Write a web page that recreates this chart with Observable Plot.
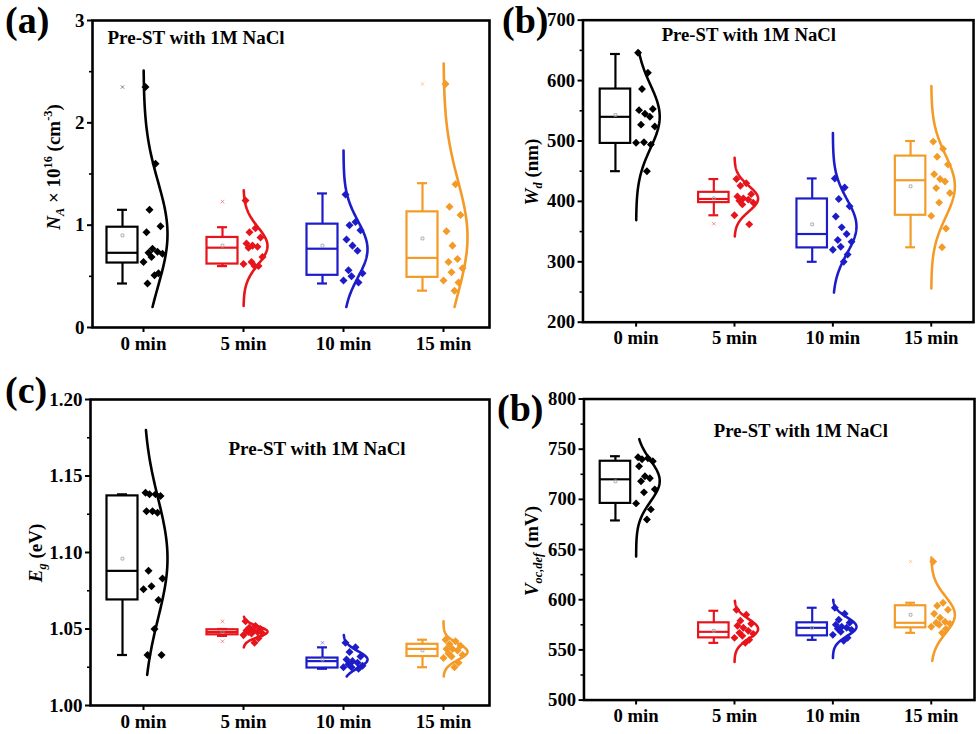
<!DOCTYPE html>
<html><head><meta charset="utf-8">
<script src="https://cdn.jsdelivr.net/npm/d3@7"></script>
<script src="https://cdn.jsdelivr.net/npm/@observablehq/plot@0.6"></script>
<style>
html,body{margin:0;padding:0;background:#fff;overflow:hidden;}
#wrap{position:relative;width:977px;height:734px;overflow:hidden;font-family:"Liberation Serif","Times New Roman",serif;font-weight:bold;color:#000;}
.panel{position:absolute;}
.lab{position:absolute;font-size:38px;line-height:1.1;white-space:nowrap;}
.ytitle{position:absolute;font-size:19px;line-height:1;white-space:nowrap;transform:translate(-50%,-50%) rotate(-90deg);}
.ytitle sub,.ytitle sup{font-size:0.65em;line-height:0;}
</style></head><body><div id="wrap"></div>
<script>
// ---------- shared ----------
const categories = ["0 min", "5 min", "10 min", "15 min"];
const colors = ["#000000", "#e8141b", "#1c1cc9", "#f39a27"];
const subtitle = "Pre-ST with 1M NaCl";

// ---------- (a) N_A x 10^16 (cm^-3) ----------
const naPoints = [
  [2.35, 1.60, 1.15, 0.99, 0.93, 0.77, 0.74, 0.73, 0.72, 0.69, 0.64, 0.53, 0.51, 0.43],
  [1.24, 0.97, 0.93, 0.88, 0.82, 0.80, 0.79, 0.78, 0.69, 0.64, 0.62, 0.60, 0.60],
  [1.30, 1.03, 1.00, 0.95, 0.86, 0.80, 0.75, 0.56, 0.53, 0.50, 0.46, 0.44],
  [2.38, 1.40, 1.18, 1.10, 0.94, 0.80, 0.67, 0.64, 0.58, 0.54, 0.46, 0.44, 0.36]
];
const naBoxLow = [0.43, 0.60, 0.43, 0.36];
const naBoxQ1 = [0.63, 0.62, 0.51, 0.49];
const naBoxMedian = [0.73, 0.78, 0.77, 0.68];
const naBoxQ3 = [0.98, 0.88, 1.01, 1.13];
const naBoxHigh = [1.15, 0.98, 1.31, 1.41];
const naMean = [0.90, 0.80, 0.80, 0.87];
const naCurveLow = [0.20, 0.21, 0.20, 0.20];
const naCurveHigh = [2.51, 1.34, 1.73, 2.58];
const naExtremes = [[0, 2.35], [1, 1.23], [3, 2.38]];
const naTicks = [0, 1, 2, 3];
const naMinor = [0.5, 1.5, 2.5];

// ---------- (b) W_d (nm) ----------
const wdPoints = [
  [646, 613, 586, 553, 551, 545, 540, 527, 524, 498, 497, 494, 450],
  [437, 430, 426, 412, 408, 405, 403, 401, 398, 395, 377, 362],
  [438, 423, 404, 392, 375, 357, 346, 336, 333, 325, 320, 312, 300],
  [499, 487, 474, 461, 445, 437, 433, 422, 414, 398, 376, 355, 324]
];
const wdBoxLow = [450, 377, 300, 324];
const wdBoxQ1 = [496, 398, 323, 377];
const wdBoxMedian = [540, 404, 346, 435];
const wdBoxQ3 = [586, 415, 404, 475];
const wdBoxHigh = [644, 437, 438, 500];
const wdMean = [543, 405, 362, 425];
const wdCurveLow = [369, 342, 249, 256];
const wdCurveHigh = [648, 472, 513, 591];
const wdExtremes = [[1, 363]];
const wdTicks = [200, 300, 400, 500, 600, 700];
const wdMinor = [250, 350, 450, 550, 650];

// ---------- (c) E_g (eV) ----------
const egPoints = [
  [1.139, 1.138, 1.138, 1.137, 1.127, 1.127, 1.126, 1.088, 1.083, 1.078, 1.076, 1.069, 1.050, 1.033, 1.033],
  [1.055, 1.052, 1.051, 1.050, 1.049, 1.049, 1.048, 1.048, 1.047, 1.047, 1.046, 1.044, 1.041],
  [1.041, 1.038, 1.035, 1.032, 1.030, 1.029, 1.028, 1.027, 1.026, 1.025, 1.025, 1.024],
  [1.043, 1.042, 1.040, 1.039, 1.037, 1.037, 1.036, 1.034, 1.033, 1.032, 1.031, 1.028, 1.025]
];
const egBoxLow = [1.033, 1.0455, 1.024, 1.025];
const egBoxQ1 = [1.069, 1.0462, 1.0245, 1.032];
const egBoxMedian = [1.088, 1.048, 1.029, 1.037];
const egBoxQ3 = [1.137, 1.0495, 1.031, 1.040];
const egBoxHigh = [1.138, 1.050, 1.038, 1.043];
const egMean = [1.096, 1.048, 1.030, 1.036];
const egCurveLow = [1.020, 1.038, 1.019, 1.019];
const egCurveHigh = [1.180, 1.058, 1.046, 1.055];
const egExtremes = [[1, 1.055], [1, 1.042], [2, 1.041]];
const egTicks = [1.00, 1.05, 1.10, 1.15, 1.20];
const egMinor = [1.025, 1.075, 1.125, 1.175];

// ---------- (d) V_oc,def (mV) ----------
const vocPoints = [
  [742, 741, 740, 738, 733, 723, 721, 718, 710, 707, 696, 690, 680],
  [590, 585, 579, 576, 574, 572, 569, 567, 566, 564, 562, 560, 557],
  [592, 586, 580, 577, 575, 573, 572, 571, 570, 568, 565, 562, 559],
  [638, 597, 594, 590, 586, 582, 578, 577, 576, 575, 573, 571, 567]
];
const vocBoxLow = [679, 557, 560, 567];
const vocBoxQ1 = [696, 562, 564, 572];
const vocBoxMedian = [720, 568, 572, 577];
const vocBoxQ3 = [738, 577, 577, 594];
const vocBoxHigh = [743, 589, 592, 597];
const vocMean = [718, 569, 572, 585];
const vocCurveLow = [643, 538, 542, 539];
const vocCurveHigh = [760, 599, 600, 642];
const vocExtremes = [[3, 638]];
const vocTicks = [500, 550, 600, 650, 700, 750, 800];
const vocMinor = [525, 575, 625, 675, 725, 775];

// layout constants (not data)
const jitter = [0.02, 0.12, 0.06, 0.17, 0.03, 0.09, 0.14, 0.05, 0.19, 0.08, 0.0, 0.15, 0.11, 0.04, 0.18];
const BOX_L = -0.365, BOX_R = -0.055, BOX_C = -0.21, CAP = 0.05, CURVE_W = 0.24;

function panel(cfg) {
  const pts = cfg.points.flatMap((vals, g) => vals.map((v, i) => ({g, v, x: g + jitter[i % jitter.length]})));
  const boxes = categories.map((c, g) => ({
    g, lo: cfg.low[g], q1: cfg.q1[g], med: cfg.med[g], q3: cfg.q3[g], hi: cfg.high[g], mean: cfg.mean[g]
  }));
  const curves = cfg.points.flatMap((vals, g) => {
    const m = d3.mean(vals), s = d3.deviation(vals);
    const lo = cfg.curveLow[g], hi = cfg.curveHigh[g];
    return d3.range(0, 121).map(k => {
      const y = lo + (hi - lo) * k / 120;
      return {g, y, x: g + CURVE_W * Math.exp(-0.5 * ((y - m) / s) ** 2)};
    });
  });
  const col = d => colors[d.g];
  return Plot.plot({
    width: cfg.width, height: cfg.height,
    marginLeft: cfg.ml, marginRight: cfg.mr, marginTop: cfg.mt, marginBottom: cfg.mb,
    x: {type: "linear", domain: cfg.xDomain},
    y: {type: "linear", domain: cfg.yDomain},
    color: {type: "identity"},
    style: {fontFamily: '"Liberation Serif", "Times New Roman", serif', fontWeight: "bold", background: "transparent", overflow: "visible", color: "#000"},
    marks: [
      Plot.line(curves, {x: "x", y: "y", z: "g", stroke: col, strokeWidth: 2.6}),
      Plot.rect(boxes, {x1: d => d.g + BOX_L, x2: d => d.g + BOX_R, y1: "q1", y2: "q3", stroke: col, fill: "none", strokeWidth: 2.2}),
      Plot.ruleY(boxes, {y: "med", x1: d => d.g + BOX_L, x2: d => d.g + BOX_R, stroke: col, strokeWidth: 2.2}),
      Plot.ruleX(boxes, {x: d => d.g + BOX_C, y1: "q3", y2: "hi", stroke: col, strokeWidth: 2.2}),
      Plot.ruleX(boxes, {x: d => d.g + BOX_C, y1: "lo", y2: "q1", stroke: col, strokeWidth: 2.2}),
      Plot.ruleY(boxes, {y: "hi", x1: d => d.g + BOX_C - CAP, x2: d => d.g + BOX_C + CAP, stroke: col, strokeWidth: 2.2}),
      Plot.ruleY(boxes, {y: "lo", x1: d => d.g + BOX_C - CAP, x2: d => d.g + BOX_C + CAP, stroke: col, strokeWidth: 2.2}),
      Plot.dot(boxes, {x: d => d.g + BOX_C, y: "mean", symbol: "square", r: 1.6, stroke: "#a0a0a0", strokeWidth: 0.8, fill: "none"}),
      Plot.dot(cfg.extremes, {x: d => d[0] + BOX_C, y: d => d[1], symbol: "times", r: 1.8, stroke: d => colors[d[0]], strokeOpacity: 0.45, strokeWidth: 1}),
      Plot.dot(pts, {x: "x", y: "v", symbol: "square", rotate: 45, r: 3.2, fill: col, stroke: "none"}),
      Plot.frame({stroke: "#000", strokeWidth: 2.6}),
      Plot.axisY({ticks: cfg.yTicks, tickFormat: cfg.fmt, tickSize: 5, tickPadding: 3, fontSize: 19, fontWeight: "bold", label: null, strokeWidth: 2}),
      Plot.axisY({ticks: cfg.yMinor, tickFormat: () => "", tickSize: 3, label: null, strokeWidth: 1.6}),
      Plot.axisX({ticks: [0, 1, 2, 3], tickFormat: i => categories[i], tickSize: 5, tickPadding: 4, fontSize: 19, fontWeight: "bold", label: null, strokeWidth: 2}),
      Plot.text([subtitle], {frameAnchor: "top-left", dx: cfg.tdx, dy: cfg.tdy, textAnchor: "start", lineAnchor: "middle", fontSize: 19, fontWeight: "bold", fill: "#000"})
    ]
  });
}

const wrap = document.getElementById("wrap");
function place(node, left, top) {
  const d = document.createElement("div");
  d.className = "panel";
  d.style.left = left + "px"; d.style.top = top + "px";
  d.appendChild(node);
  wrap.appendChild(d);
}
function html(cls, left, top, inner) {
  const d = document.createElement("div");
  d.className = cls;
  d.style.left = left + "px"; d.style.top = top + "px";
  d.innerHTML = inner;
  wrap.appendChild(d);
}

place(panel({
  points: naPoints, low: naBoxLow, q1: naBoxQ1, med: naBoxMedian, q3: naBoxQ3, high: naBoxHigh, mean: naMean,
  curveLow: naCurveLow, curveHigh: naCurveHigh, extremes: naExtremes,
  yDomain: [0, 3], yTicks: naTicks, yMinor: naMinor, fmt: d3.format("d"),
  xDomain: [-0.51, 3.46], width: 495, height: 360, ml: 92, mr: 6, mt: 20, mb: 33, tdx: 15, tdy: 17
}), 0, 0);

place(panel({
  points: wdPoints, low: wdBoxLow, q1: wdBoxQ1, med: wdBoxMedian, q3: wdBoxQ3, high: wdBoxHigh, mean: wdMean,
  curveLow: wdCurveLow, curveHigh: wdCurveHigh, extremes: wdExtremes,
  yDomain: [200, 700], yTicks: wdTicks, yMinor: wdMinor, fmt: d3.format("d"),
  xDomain: [-0.54, 3.43], width: 495, height: 360, ml: 94, mr: 4, mt: 20, mb: 33, tdx: 80, tdy: 15
}), 490, 0);

place(panel({
  points: egPoints, low: egBoxLow, q1: egBoxQ1, med: egBoxMedian, q3: egBoxQ3, high: egBoxHigh, mean: egMean,
  curveLow: egCurveLow, curveHigh: egCurveHigh, extremes: egExtremes,
  yDomain: [1.0, 1.2], yTicks: egTicks, yMinor: egMinor, fmt: d3.format(".2f"),
  xDomain: [-0.53, 3.46], width: 495, height: 364, ml: 90, mr: 6, mt: 29, mb: 29, tdx: 138, tdy: 49
}), 0, 370);

place(panel({
  points: vocPoints, low: vocBoxLow, q1: vocBoxQ1, med: vocBoxMedian, q3: vocBoxQ3, high: vocBoxHigh, mean: vocMean,
  curveLow: vocCurveLow, curveHigh: vocCurveHigh, extremes: vocExtremes,
  yDomain: [500, 800], yTicks: vocTicks, yMinor: vocMinor, fmt: d3.format("d"),
  xDomain: [-0.53, 3.44], width: 495, height: 364, ml: 95, mr: 3, mt: 29, mb: 29, tdx: 132, tdy: 33
}), 490, 370);

// panel letters
html("lab", 5, 0, "(a)");
html("lab", 502, 0, "(b)");
html("lab", 5, 370, "(c)");
html("lab", 497, 388, "(b)");

// y-axis titles
html("ytitle", 53, 167, "<i>N</i><sub><i>A</i></sub> × 10<sup>16</sup> (cm<sup>-3</sup>)");
html("ytitle", 531, 172, "<i>W</i><sub><i>d</i></sub> (nm)");
html("ytitle", 35, 553, "<i>E</i><sub><i>g</i></sub> (eV)");
html("ytitle", 531, 551, "<i>V</i><sub><i>oc,def</i></sub> (mV)");
</script></body></html>
